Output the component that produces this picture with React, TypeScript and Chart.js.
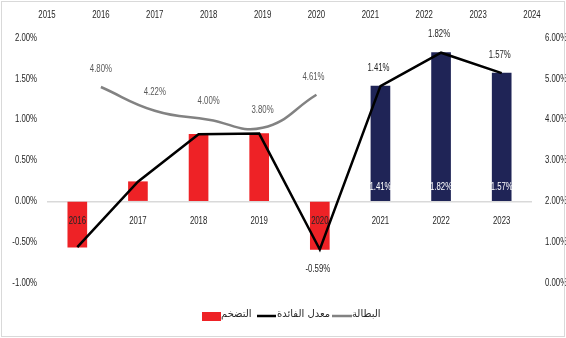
import React, { useEffect, useRef } from 'react';
import { Chart, registerables } from 'chart.js';

Chart.register(...registerables);

const categories = ['2016', '2017', '2018', '2019', '2020', '2021', '2022', '2023'];
const inflation = [-0.56, 0.24, 0.82, 0.83, -0.59, 1.41, 1.82, 1.57];
const interestRate = [-0.56, 0.24, 0.82, 0.83, -0.59, 1.41, 1.82, 1.57];
const unemploymentYears = [2016, 2017, 2018, 2019, 2020];
const unemployment = [4.8, 4.22, 4.0, 3.8, 4.61];
const labeledCategories = ['2020', '2021', '2022', '2023'];
const navyCategories = ['2021', '2022', '2023'];
const legendLabels = ['التضخم', 'معدل الفائدة', 'البطالة'];

const RED = '#EE2226';
const NAVY = '#1F2456';
const GRAY_LINE = '#828282';
const TEXT = '#262626';
const FONT = '10px "Liberation Sans", Arial, sans-serif';
const AR_FONT = '10px "DejaVu Sans", sans-serif';
const SX = 0.78;

const pct = (v: number) => v.toFixed(2) + '%';

function txt(ctx: CanvasRenderingContext2D, s: string, x: number, y: number, align: CanvasTextAlign, color: string) {
  ctx.save();
  ctx.translate(x, y);
  ctx.scale(SX, 1);
  ctx.font = FONT;
  ctx.textAlign = align;
  ctx.textBaseline = 'middle';
  ctx.fillStyle = color;
  ctx.fillText(s, 0, 0);
  ctx.restore();
}

const overlay = {
  id: 'overlay',
  afterDatasetsDraw(chart: any) {
    const ctx = chart.ctx as CanvasRenderingContext2D;
    const xs = chart.scales.x;
    const x2 = chart.scales.x2;
    const ys = chart.scales.y;
    const y2 = chart.scales.y2;
    const area = chart.chartArea;
    const zero = ys.getPixelForValue(0);
    ctx.save();

    // axis tick labels
    x2.ticks.forEach((t: any) => {
      txt(ctx, String(t.value), x2.getPixelForValue(t.value), 15.5, 'center', TEXT);
    });
    ys.ticks.forEach((t: any) => {
      txt(ctx, pct(t.value), area.left - 10, ys.getPixelForValue(t.value), 'right', TEXT);
    });
    y2.ticks.forEach((t: any) => {
      txt(ctx, pct(t.value), area.right + 13, y2.getPixelForValue(t.value), 'left', TEXT);
    });

    // category labels next to zero line
    categories.forEach((c, i) => {
      txt(ctx, c, xs.getPixelForValue(i), zero + 20, 'center', TEXT);
    });

    // bar value labels
    const barMeta = chart.getDatasetMeta(0);
    inflation.forEach((v, i) => {
      if (!labeledCategories.includes(categories[i])) return;
      const el = barMeta.data[i];
      const s = pct(v);
      if (v < 0) {
        txt(ctx, s, el.x - 2, el.y + 20, 'center', TEXT);
      } else {
        txt(ctx, s, el.x - 2, el.y - 18, 'center', TEXT);
        txt(ctx, s, el.x, zero - 14, 'center', '#ffffff');
      }
    });

    // unemployment labels
    const gMeta = chart.getDatasetMeta(2);
    gMeta.data.forEach((p: any, i: number) => {
      txt(ctx, pct(unemployment[i]), p.x - (i === 4 ? 3 : 0), p.y - 18, 'center', '#595959');
    });

    // legend
    const ly = 316;
    ctx.font = AR_FONT;
    ctx.textAlign = 'left';
    ctx.textBaseline = 'middle';
    ctx.fillStyle = RED;
    ctx.fillRect(202, 312, 19, 9);
    ctx.fillStyle = TEXT;
    ctx.fillText(legendLabels[0], 221, ly - 2);
    ctx.strokeStyle = '#000000';
    ctx.lineWidth = 2.5;
    ctx.beginPath();
    ctx.moveTo(257, ly);
    ctx.lineTo(276, ly);
    ctx.stroke();
    ctx.fillText(legendLabels[1], 277, ly - 2);
    ctx.strokeStyle = GRAY_LINE;
    ctx.beginPath();
    ctx.moveTo(332, ly);
    ctx.lineTo(352, ly);
    ctx.stroke();
    ctx.fillText(legendLabels[2], 352, ly - 2);

    // outer border
    ctx.strokeStyle = '#d9d9d9';
    ctx.lineWidth = 1;
    ctx.strokeRect(1.5, 1.5, 563, 335);
    ctx.restore();
  },
};

export default function App() {
  const ref = useRef<HTMLCanvasElement | null>(null);
  useEffect(() => {
    document.body.style.margin = '0';
    if (!ref.current) return;
    const chart = new Chart(ref.current, {
      type: 'bar',
      data: {
        labels: categories,
        datasets: [
          {
            type: 'bar',
            label: legendLabels[0],
            data: inflation,
            backgroundColor: categories.map((c) => (navyCategories.includes(c) ? NAVY : RED)),
            barThickness: 19,
            grouped: false,
            xAxisID: 'x',
            yAxisID: 'y',
            order: 3,
          } as any,
          {
            type: 'line',
            label: legendLabels[1],
            data: interestRate,
            borderColor: '#000000',
            borderWidth: 2.5,
            pointRadius: 0,
            tension: 0,
            fill: false,
            xAxisID: 'x',
            yAxisID: 'y',
            order: 1,
          } as any,
          {
            type: 'line',
            label: legendLabels[2],
            data: unemploymentYears.map((yr, i) => ({ x: yr, y: unemployment[i] })),
            borderColor: GRAY_LINE,
            borderWidth: 2.5,
            pointRadius: 0,
            tension: 0.45,
            fill: false,
            xAxisID: 'x2',
            yAxisID: 'y2',
            order: 2,
          } as any,
        ],
      },
      options: {
        responsive: false,
        devicePixelRatio: 1,
        animation: false,
        layout: { padding: { top: 0, left: 0, right: 0, bottom: 55 } },
        plugins: { legend: { display: false }, tooltip: { enabled: false } },
        scales: {
          x: { type: 'category', display: false, offset: true, grid: { display: false } },
          x2: {
            type: 'linear',
            position: 'top',
            offset: false,
            min: 2015,
            max: 2024,
            grid: { display: false, drawTicks: false, offset: false },
            border: { display: false },
            ticks: { display: false, stepSize: 1, autoSkip: false },
            afterFit: (s: any) => {
              s.height = 38;
            },
          },
          y: {
            position: 'left',
            min: -1,
            max: 2,
            ticks: { display: false, stepSize: 0.5 },
            grid: {
              drawTicks: false,
              lineWidth: 1.5,
              color: (c: any) => (c.tick && c.tick.value === 0 ? '#d9d9d9' : 'rgba(0,0,0,0)'),
            },
            border: { display: false },
            afterFit: (s: any) => {
              s.width = 47;
            },
          },
          y2: {
            position: 'right',
            min: 0,
            max: 6,
            ticks: { display: false, stepSize: 1 },
            grid: { display: false, drawTicks: false },
            border: { display: false },
            afterFit: (s: any) => {
              s.width = 34;
            },
          },
        },
      } as any,
      plugins: [overlay],
    });
    return () => chart.destroy();
  }, []);
  return (
    <div style={{ width: 566, height: 338 }}>
      <canvas ref={ref} width={566} height={338} />
    </div>
  );
}
